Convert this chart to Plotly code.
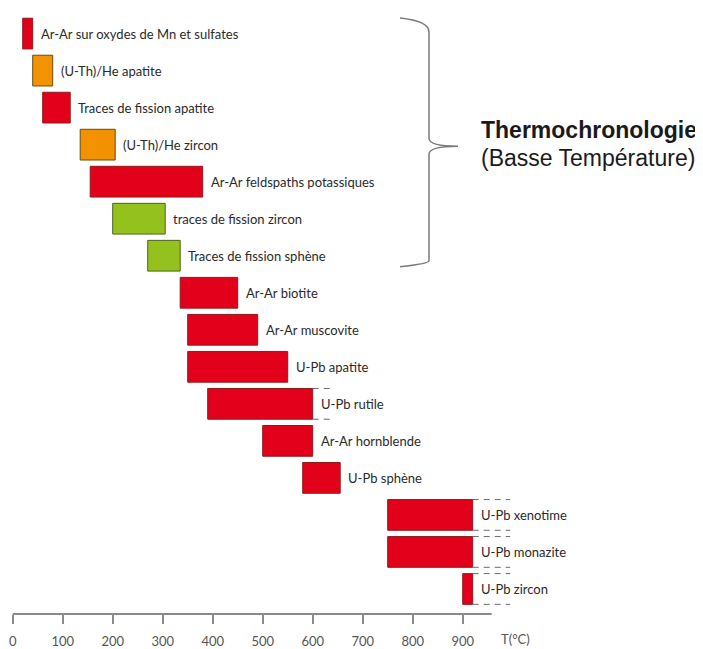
import plotly.graph_objects as go

# ---------------- data ----------------
methods = [
    "Ar-Ar sur oxydes de Mn et sulfates",
    "(U-Th)/He apatite",
    "Traces de fission apatite",
    "(U-Th)/He zircon",
    "Ar-Ar feldspaths potassiques",
    "traces de fission zircon",
    "Traces de fission sphène",
    "Ar-Ar biotite",
    "Ar-Ar muscovite",
    "U-Pb apatite",
    "U-Pb rutile",
    "Ar-Ar hornblende",
    "U-Pb sphène",
    "U-Pb xenotime",
    "U-Pb monazite",
    "U-Pb zircon",
]
t_min = [20, 40, 60, 135, 155, 200, 270, 335, 350, 350, 390, 500, 580, 750, 750, 900]
t_max = [40, 80, 115, 205, 380, 305, 335, 450, 490, 550, 600, 600, 655, 920, 920, 920]
# upper uncertainty (dashed extension), None = no extension
t_ext = [None, None, None, None, None, None, None, None, None, None, 640,
         None, None, 995, 995, 995]
kind = ["rouge", "orange", "rouge", "orange", "rouge", "vert", "vert", "rouge",
        "rouge", "rouge", "rouge", "rouge", "rouge", "rouge", "rouge", "rouge"]
tick_vals = [0, 100, 200, 300, 400, 500, 600, 700, 800, 900]
axis_end = 958
axis_title = "T(°C)"
group_title = "Thermochronologie"
group_subtitle = "(Basse Température)"

# ---------------- styles ----------------
fill = {"rouge": "#E2001A", "orange": "#F39200", "vert": "#95C11F"}
edge = {"rouge": "#8E1B1B", "orange": "#6E4A12", "vert": "#4F6318"}
label_font = dict(family="Lato, Roboto, sans-serif", size=13, color="#2a2a2a")
OFF = 8                      # page body margin
W, H = 703 - OFF, 649 - OFF
ML, MR, MT, MB = 4, 0, 0, 32
PW, PH = W - ML - MR, H - MT - MB


def px(x, y):
    """page pixel -> paper coords"""
    return (x - OFF - ML) / PW, 1 - (y - OFF - MT) / PH


fig = go.Figure()
fig.add_trace(go.Bar(
    y=methods,
    x=[b - a for a, b in zip(t_min, t_max)],
    base=t_min,
    orientation="h",
    width=0.83,
    marker=dict(color=[fill[k] for k in kind],
                line=dict(color=[edge[k] for k in kind], width=1)),
    hoverinfo="skip",
    showlegend=False,
))

annotations = []
shapes = []
for i, (m, hi, ext) in enumerate(zip(methods, t_max, t_ext)):
    annotations.append(dict(
        x=hi, y=m, xref="x", yref="y", text=m, showarrow=False,
        xanchor="left", yanchor="middle", xshift=6, font=label_font))
    if ext is not None:
        for dy in (-0.415, 0.415):
            shapes.append(dict(
                type="line", xref="x", yref="y", x0=hi, x1=ext,
                y0=i + dy, y1=i + dy,
                line=dict(color="#6a6a6a", width=1, dash="6px,5px")))

# axis line (drawn only over the temperature span)
shapes.append(dict(type="line", xref="x", yref="paper", x0=0, x1=axis_end,
                   y0=0, y1=0, line=dict(color="#8a8a8a", width=2)))

# curly brace for the low-temperature group
bx = 429
p = [px(400, 18), px(bx, 21), px(bx, 32), px(bx, 139), px(bx, 147),
     px(458, 147), px(bx, 155), px(bx, 262), px(bx, 265), px(400, 268)]
path = ("M {0[0]},{0[1]} Q {1[0]},{1[1]} {2[0]},{2[1]} L {3[0]},{3[1]} "
        "Q {4[0]},{4[1]} {5[0]},{5[1]} Q {4[0]},{4[1]} {6[0]},{6[1]} "
        "L {7[0]},{7[1]} Q {8[0]},{8[1]} {9[0]},{9[1]}").format(*p)
shapes.append(dict(type="path", xref="paper", yref="paper", path=path,
                   line=dict(color="#7a7a7a", width=1.5)))

tx, ty1 = px(479, 131)
_, ty2 = px(479, 159)
title_font = dict(family="Liberation Sans, Arial, sans-serif", size=23,
                  color="#1a1a1a")
annotations.append(dict(x=tx, y=ty1, xref="paper", yref="paper",
                        text="<b>" + group_title + "</b>", showarrow=False,
                        xanchor="left", yanchor="middle", font=title_font))
annotations.append(dict(x=tx, y=ty2, xref="paper", yref="paper",
                        text=group_subtitle, showarrow=False,
                        xanchor="left", yanchor="middle", font=title_font))
annotations.append(dict(x=1006, y=0, xref="x", yref="paper", text=axis_title,
                        showarrow=False, xanchor="center", yanchor="middle",
                        yshift=-25,
                        font=dict(family="Lato, Roboto, sans-serif", size=13,
                                  color="#555555")))

y_top = (OFF + MT - 33.7) / 37.21
y_bot = (OFF + MT + PH - 33.7) / 37.21

fig.update_layout(
    width=W, height=H,
    margin=dict(l=ML, r=MR, t=MT, b=MB, pad=0),
    paper_bgcolor="white", plot_bgcolor="white",
    xaxis=dict(range=[-1.4, -1.4 + PW / 0.5], tickvals=tick_vals,
               ticks="outside", ticklen=9, tickwidth=1.5, tickcolor="#8a8a8a",
               ticklabelstandoff=6,
               showline=False, showgrid=False, zeroline=False,
               tickfont=dict(family="Lato, Roboto, sans-serif", size=13,
                             color="#555555")),
    yaxis=dict(type="category", categoryorder="array", categoryarray=methods,
               range=[y_bot, y_top], visible=False),
    annotations=annotations,
    shapes=shapes,
)

fig.write_html("out.html")
